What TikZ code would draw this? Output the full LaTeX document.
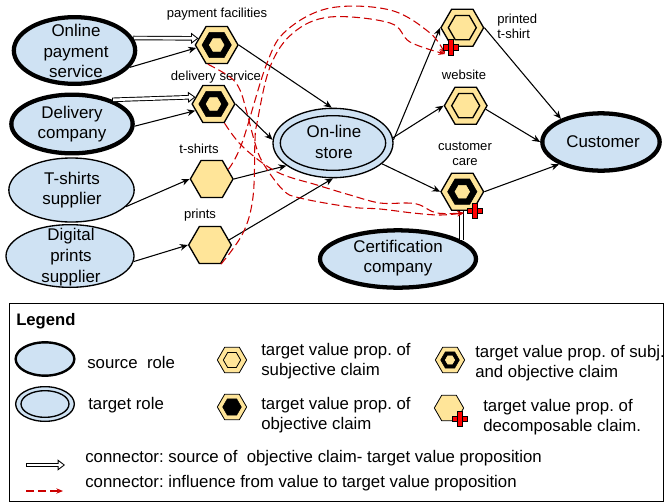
\documentclass[tikz,border=0pt]{standalone}
\usepackage{fontspec}
\setmainfont{Liberation Sans}
\frenchspacing
\usetikzlibrary{calc, shapes, positioning, arrows.meta}
\definecolor{rolefill}{HTML}{CFE2F3}
\definecolor{propfill}{HTML}{FFE599}
\definecolor{inflred}{HTML}{CC0000}
\tikzstyle{roles}=[shape=ellipse, draw=black, fill=rolefill, line width=3.2pt, inner sep=0pt]
\tikzstyle{rolet}=[shape=ellipse, draw=black, fill=rolefill, line width=1pt, inner sep=0pt]
\tikzstyle{rolename}=[inner sep=0pt, align=center, font=\fontsize{12.7}{15.5}\selectfont]
\tikzstyle{hexo}=[shape=regular polygon, regular polygon sides=6, draw=black, fill=propfill, line width=1pt, inner sep=0pt, minimum size=32pt]
\tikzstyle{hexi}=[shape=regular polygon, regular polygon sides=6, draw=black, fill=propfill, line width=1pt, inner sep=0pt, minimum size=21pt]
\tikzstyle{hexb}=[shape=regular polygon, regular polygon sides=6, draw=black, fill=black, inner sep=0pt, minimum size=22pt]
\tikzstyle{hexc}=[shape=regular polygon, regular polygon sides=6, draw=propfill, fill=propfill, inner sep=0pt, minimum size=11pt]
\tikzstyle{capt}=[font=\fontsize{9.8}{11.5}\selectfont, inner sep=0pt, align=center]
\tikzstyle{legt}=[font=\fontsize{12.6}{15}\selectfont, inner sep=0pt, align=left, anchor=west]
\tikzstyle{valarrow}=[-{Stealth[length=6pt,width=5pt]}, line width=.8pt]
\tikzstyle{srcline}=[double, double distance=2pt, line width=.7pt]
\tikzstyle{srcarrow}=[line width=3.4pt, -{Triangle[length=5.5pt,width=8pt]}, postaction={draw=white, line width=2pt, shorten >=1.2pt, shorten <=.7pt, -{Triangle[length=3.6pt,width=5pt]}}]
\tikzstyle{inflarrow}=[draw=inflred, line width=.8pt, dash pattern=on 6pt off 3pt, -{Stealth[length=5pt,width=4pt]}]
\newcommand{\plusmark}[3]{
\node [shape=rectangle, draw=black, fill=red, inner sep=0pt, minimum width=#3*1.05pt, minimum height=#3*.36pt, line width=.5pt] (#1h) at (#2){};
\node [shape=rectangle, draw=black, fill=red, inner sep=0pt, minimum width=#3*.36pt, minimum height=#3*1.05pt, line width=.5pt] (#1v) at (#2){};
\node [shape=rectangle, fill=red, inner sep=0pt, minimum width=#3*.3pt, minimum height=#3*.3pt] (#1c) at (#2){};
}
\begin{document}
\begin{tikzpicture}[x=0.75pt, y=-0.75pt]
\useasboundingbox (0,0) rectangle (665,504);
%roles
\node [roles, minimum width=91pt, minimum height=50pt](onlinepay) at (74.5,50.5){};
\node [rolename](tonlinepay) at (76,51){Online\\payment\\service};
\node [roles, minimum width=91pt, minimum height=44pt](delivery) at (72,124){};
\node [rolename](tdelivery) at (72,124){Delivery\\company};
\node [rolet, minimum width=94pt, minimum height=48pt](tsupplier) at (71.5,190){};
\node [rolename](ttsupplier) at (72,190){T-shirts\\supplier};
\node [rolet, minimum width=96pt, minimum height=47pt](psupplier) at (70,256){};
\node [rolename](tpsupplier) at (71,257){Digital\\prints\\supplier};
\node [rolet, minimum width=90pt, minimum height=52pt](store) at (333,143){};
\node [rolet, minimum width=79pt, minimum height=41pt](storein) at (333,143){};
\node [rolename](tstore) at (334,142){On-line\\store};
\node [roles, minimum width=88pt, minimum height=43pt](customer) at (601,142){};
\node [rolename](tcustomer) at (603,142){Customer};
\node [roles, minimum width=117pt, minimum height=43pt](certif) at (398,259){};
\node [rolename](tcertif) at (398,258){Certification\\company};
\coordinate (caretip) at (464,213);
\coordinate (printedtip) at (445,54);
%value propositions
\node [hexo](care) at (462.3,191.7){};
\draw [srcline] (care.-93) -- (care.-93 |- certif.17);
\node [hexo](payfac) at (216.7,45){};
\node [hexb](payfacb) at (payfac){};
\node [hexc](payfacc) at (payfac){};
\node [hexo](delserv) at (213.5,104){};
\node [hexb](delservb) at (delserv){};
\node [hexc](delservc) at (delserv){};
\node [hexo](tshirts) at (211.7,179){};
\node [hexo](prints) at (210,245){};
\node [hexo](printed) at (462.3,27.7){};
\node [hexi](printedi) at (printed){};
\node [hexo](website) at (465.7,105.7){};
\node [hexi](websitei) at (website){};
\node [hexb](careb) at (care){};
\node [hexc](carec) at (care){};
%captions
\node [capt](lpayfac) at (217,14){payment facilities};
\node [capt](ldelserv) at (216,77){delivery service};
\node [capt](ltshirts) at (199,149){t-shirts};
\node [capt](lprints) at (200,215){prints};
\node [capt, align=left, anchor=west](lprinted) at (497,26){printed\\t-shirt};
\node [capt](lwebsite) at (464,75){website};
\node [capt](lcare) at (465,154){customer\\care};
%connectors
\draw [srcarrow] (onlinepay.12) -- (payfac.160);
\draw [srcarrow] (delivery.31) -- (delserv.159);
\draw [valarrow] (onlinepay.-17) -- (payfac.188);
\draw [valarrow] (delivery.-2) -- (delserv.200);
\draw [valarrow] (tsupplier.-17) -- (tshirts.180);
\draw [valarrow] (psupplier.-5) -- (prints.180);
\draw [valarrow] (payfac.0) -- (store.92);
\draw [valarrow] (delserv.0) -- (store.177);
\draw [valarrow] (tshirts.0) -- (store.206);
\draw [valarrow] (prints.15) -- (store.-90);
\draw [valarrow] (store.3) -- (printed.180);
\draw [valarrow] (store.5) -- (website.180);
\draw [valarrow] (store.-23) -- (care.180);
\draw [valarrow] (printed.0) -- (customer.150);
\draw [valarrow] (website.-10) -- (customer.180);
\draw [valarrow] (care.0) -- (customer.208);
%influence
\draw [inflarrow] plot [smooth, tension=.6] coordinates {(payfac.-115)(230,77)(240,90)(247,113)(255,143)(263,163)(283,190)(300,198)(350,207)(380,209)(413,213)(440,215)(caretip)};
\draw [inflarrow] plot [smooth, tension=.6] coordinates {(delserv.-60)(243,147)(277,172)(317,185)(350,195)(380,203)(407,203)(420,205)(437,213)(caretip)};
\draw [inflarrow] plot [smooth, tension=.6] coordinates {(tshirts.30)(242,143)(267,63)(287,30)(330,8)(390,10)(430,33)(printedtip)};
\draw [inflarrow] plot [smooth, tension=.6] coordinates {(prints.-60)(243,233)(253,197)(255,140)(257,123)(270,67)(293,33)(330,17)(390,23)(410,42)(printedtip)};
\plusmark{plusprinted}{450.7,47.3}{11}
\plusmark{pluscare}{475,211}{11}
%legend
\node [draw=black, line width=.8pt, inner sep=0pt, minimum width=491pt, minimum height=149pt](legendbox) at (336.5,402.5){};
\node [legt, font=\fontsize{12.5}{15}\selectfont\bfseries](legendt) at (16,321){Legend};
\node [roles, line width=1.8pt, minimum width=44pt, minimum height=25pt](lsource) at (45,359){};
\node [rolet, minimum width=44pt, minimum height=26pt](ltarget) at (45,404){};
\node [rolet, minimum width=36pt, minimum height=20pt](ltargeti) at (45,404){};
\node [legt](tsource) at (87,362){source\ \ role};
\node [legt](ttarget) at (88,405){target role};
\node [hexo, line width=.6pt, minimum size=22pt](hsubj) at (232,360){};
\node [hexi, line width=.6pt, minimum size=13pt](hsubji) at (hsubj){};
\node [hexo, line width=.6pt, minimum size=22pt](hobj) at (232,407){};
\node [hexb, minimum size=14pt](hobjb) at (hobj){};
\node [hexo, line width=.6pt, minimum size=22pt](hboth) at (450,360){};
\node [hexb, minimum size=14pt](hbothb) at (hboth){};
\node [hexc, minimum size=7pt](hbothc) at (hboth){};
\node [hexo, line width=.6pt, minimum size=22pt](hdec) at (449,408){};
\plusmark{plusdec}{460,419}{11}
\node [legt](tsubj) at (261,361){target value prop. of\\subjective claim};
\node [legt](tobj) at (261,415){target value prop. of\\objective claim};
\node [legt](tboth) at (475,363){target value prop. of subj.\\and objective claim};
\node [legt](tdec) at (483,417){target value prop. of\\decomposable claim.};
\node [legt](tconsrc) at (85,458){connector: source of\ \ objective claim- target value proposition};
\node [legt](tconinf) at (85,483){connector: influence from value to target value proposition};
\coordinate (srcfrom) at (26,465);
\coordinate (srcto) at (65,465);
\coordinate (inffrom) at (26,491);
\coordinate (infto) at (63,491);
\draw [srcarrow] (srcfrom) -- (srcto);
\draw [inflarrow] (inffrom) -- (infto);
\end{tikzpicture}
\end{document}
